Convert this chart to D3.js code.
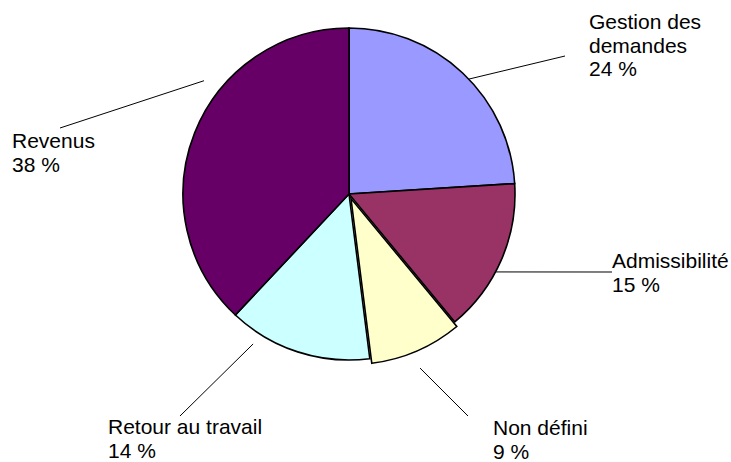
<!DOCTYPE html>
<html lang="fr">
  <head>
    <meta charset="utf-8">
    <title>Répartition</title>
    <script src="https://d3js.org/d3.v7.min.js"></script>
    <style type="text/css">
        body {
          margin: 0;
          background: #fff;
        }

        .slice {
          stroke: #000;
          stroke-width: 1.6px;
        }

        .leader {
          stroke: #000;
          stroke-width: 1px;
          fill: none;
        }

        .pie-label {
          font: 21px "Liberation Sans", Arial, sans-serif;
          fill: #000;
        }
    </style>
  </head>
  <body>
    <div id="chart"></div>

    <script>
        // data (Excel order, clockwise from 12 o'clock)
        var categories = ["Gestion des demandes", "Admissibilité", "Non défini", "Retour au travail", "Revenus"];
        var values = [24, 15, 9, 14, 38];
        var labelLines = [["Gestion des", "demandes"], ["Admissibilité"], ["Non défini"], ["Retour au travail"], ["Revenus"]];
        var colors = ["#9999ff", "#993366", "#ffffcc", "#ccffff", "#660066"];

        var width = 731, height = 462;
        var cx = 349, cy = 194, radius = 166;

        // layout: explode distance, label anchor, leader start (angle shift in degrees, radius pad)
        var layout = [
          {explode: 0, lx: 589, ly: 29, shift: 3, pad: 0, end: [565, 56]},
          {explode: 0, lx: 612, ly: 268, shift: 4.6, pad: 0, end: [612, 272]},
          {explode: 5, lx: 493, ly: 435, shift: 1.2, pad: 22, end: [468, 416]},
          {explode: 0, lx: 108, ly: 434, shift: 14.6, pad: 12, end: [180, 416]},
          {explode: 0, lx: 12, ly: 148, shift: 16.4, pad: 18, end: [60, 128]}
        ];

        var data = categories.map(function(c, i) {
          return {name: c, value: values[i], lines: labelLines[i], color: colors[i], lay: layout[i]};
        });

        var svg = d3.select("#chart").append("svg")
            .attr("width", width)
            .attr("height", height);

        var g = svg.append("g")
            .attr("transform", "translate(" + cx + "," + cy + ")");

        var pie = d3.pie()
            .sort(null)
            .value(function(d) { return d.value; });

        var arc = d3.arc()
            .innerRadius(0)
            .outerRadius(radius);

        var arcs = pie(data);

        function polar(a, r) {
          return [Math.sin(a) * r, -Math.cos(a) * r];
        }

        g.selectAll("path.slice")
          .data(arcs)
          .enter().append("path")
            .attr("class", "slice")
            .attr("fill", function(d) { return d.data.color; })
            .attr("transform", function(d) {
              var mid = (d.startAngle + d.endAngle) / 2;
              var p = polar(mid, d.data.lay.explode);
              return "translate(" + p[0] + "," + p[1] + ")";
            })
            .attr("d", arc);

        // leader lines
        g.selectAll("line.leader")
          .data(arcs)
          .enter().append("line")
            .attr("class", "leader")
            .attr("x1", function(d) {
              var mid = (d.startAngle + d.endAngle) / 2 + d.data.lay.shift * Math.PI / 180;
              return polar(mid, radius + d.data.lay.pad)[0];
            })
            .attr("y1", function(d) {
              var mid = (d.startAngle + d.endAngle) / 2 + d.data.lay.shift * Math.PI / 180;
              return polar(mid, radius + d.data.lay.pad)[1];
            })
            .attr("x2", function(d) { return d.data.lay.end[0] - cx; })
            .attr("y2", function(d) { return d.data.lay.end[1] - cy; });

        // labels: name lines + percentage
        var fmt = function(v) { return d3.format("d")(v) + " %"; };

        var labels = svg.selectAll("text.pie-label")
          .data(arcs)
          .enter().append("text")
            .attr("class", "pie-label")
            .attr("x", function(d) { return d.data.lay.lx; })
            .attr("y", function(d) { return d.data.lay.ly; });

        labels.each(function(d) {
          var t = d3.select(this);
          var lines = d.data.lines.concat([fmt(d.data.value)]);
          lines.forEach(function(s, i) {
            t.append("tspan")
              .attr("x", d.data.lay.lx)
              .attr("dy", i === 0 ? 0 : 23.5)
              .text(s);
          });
        });
    </script>
  </body>
</html>
